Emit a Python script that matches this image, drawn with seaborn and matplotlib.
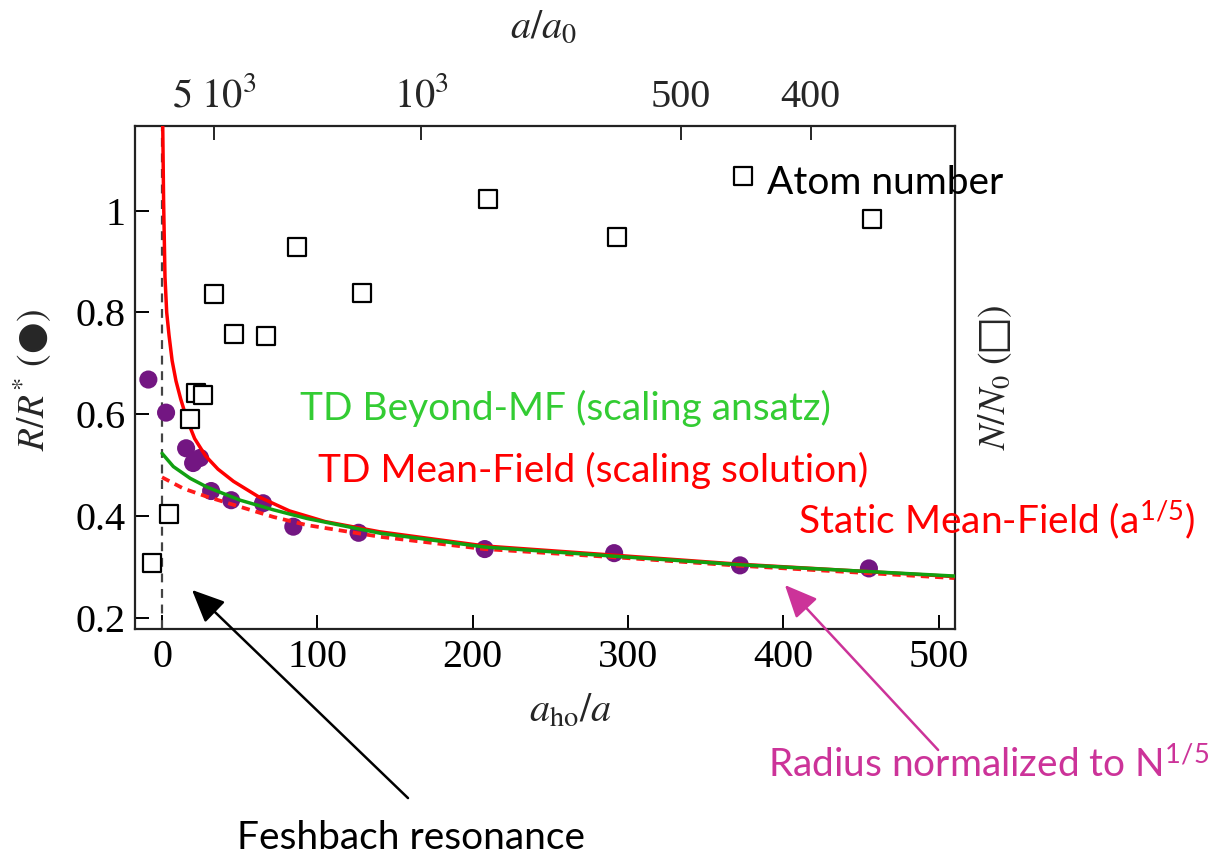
import numpy as np
import pandas as pd
import matplotlib
matplotlib.use("Agg")
import matplotlib.pyplot as plt
import seaborn as sns

# ---------------- data ----------------
dots_x = [-8.8, 2.6, 15.5, 20.0, 24.5, 31.6, 44.5, 65.0, 84.5, 126.5, 207.7, 291.0, 372.0, 455.0]
dots_y = [0.668, 0.603, 0.533, 0.504, 0.514, 0.449, 0.431, 0.425, 0.379, 0.367, 0.335, 0.327, 0.303, 0.297]

sq_x = [-6.6, 4.7, 18.1, 21.9, 26.5, 33.5, 46.5, 66.9, 86.9, 129.0, 210.0, 293.0, 374.0, 457.0]
sq_y = [0.308, 0.404, 0.591, 0.642, 0.638, 0.837, 0.757, 0.753, 0.929, 0.838, 1.023, 0.948, 1.068, 0.983]

tdmf_x = [0.45, 1.0, 1.9, 3.0, 4.5, 6.5, 9.0, 12.0, 16.0, 21.0, 28.0, 36.0, 46.0, 62.0, 82.0, 105.0, 140.0, 208.0, 291.0, 373.0, 510.0]
tdmf_y = [1.168, 1.02, 0.87, 0.80, 0.755, 0.705, 0.665, 0.630, 0.590, 0.552, 0.518, 0.492, 0.468, 0.438, 0.410, 0.389, 0.369, 0.341, 0.323, 0.305, 0.281]

bmf_x = [0.0, 7.3, 18.1, 28.8, 50.3, 71.8, 93.4, 140.6, 207.7, 291.0, 373.0, 510.0]
bmf_y = [0.523, 0.497, 0.474, 0.457, 0.431, 0.412, 0.395, 0.366, 0.339, 0.321, 0.304, 0.282]

smf_x = [0.0, 13.7, 28.8, 50.3, 71.8, 93.4, 140.6, 207.7, 291.0, 373.0, 510.0]
smf_y = [0.476, 0.454, 0.438, 0.418, 0.398, 0.382, 0.359, 0.335, 0.319, 0.302, 0.278]

x_ticks = [0, 100, 200, 300, 400, 500]
y_ticks = [0.2, 0.4, 0.6, 0.8, 1.0]
y_ticklabels = ["0.2", "0.4", "0.6", "0.8", "1"]
top_a_values = [5000, 1000, 500, 400]
top_labels = [r"$5\ 10^3$", r"$10^3$", "500", "400"]
a_ho_over_a0 = 1.67e5

# ---------------- style ----------------
sns.set_theme(style="white")
plt.rcParams["font.family"] = ["Liberation Serif", "DejaVu Sans"]
plt.rcParams["mathtext.fontset"] = "stix"

W, H = 1210, 857
fig = plt.figure(figsize=(W / 100, H / 100), dpi=100)
ax = fig.add_axes([135 / W, 1 - 629 / H, (955 - 135) / W, (629 - 125.5) / H])

XMIN, XMAX = -17.4, 510.4
YMIN, YMAX = 0.178, 1.167

# vertical resonance line
ax.axvline(0, color="#444444", lw=1.6, ls=(0, (4, 3)), zorder=1)

# data
sns.scatterplot(x=dots_x, y=dots_y, ax=ax, color="#731682", s=170, marker="o",
                edgecolor="none", zorder=2, legend=False)
sns.lineplot(x=tdmf_x, y=tdmf_y, ax=ax, color="#ff0000", lw=2.5, sort=False,
             estimator=None, zorder=3)
sns.lineplot(x=smf_x, y=smf_y, ax=ax, color="#ff1a1a", lw=2.7, sort=False,
             estimator=None, zorder=3, linestyle=(0, (2.2, 1.6)))
sns.lineplot(x=bmf_x, y=bmf_y, ax=ax, color="#11a011", lw=2.5, sort=False,
             estimator=None, zorder=4)
sns.scatterplot(x=sq_x, y=sq_y, ax=ax, marker="s", s=150, facecolor="white",
                edgecolor="black", linewidth=1.6, zorder=5, legend=False)

ax.set_xlim(XMIN, XMAX)
ax.set_ylim(YMIN, YMAX)
ax.set_xticks(x_ticks)
ax.set_yticks(y_ticks)
ax.set_yticklabels(y_ticklabels)
ax.tick_params(direction="in", length=10, width=1.4, labelsize=29, colors="black",
               bottom=True, left=True, top=False, right=False, pad=7)
for s in ax.spines.values():
    s.set_color("#222222")
    s.set_linewidth(1.6)
ax.set_xlabel("")
ax.set_ylabel("")

ax2 = ax.twiny()
ax2.set_xlim(XMIN, XMAX)
ax2.set_xticks([a_ho_over_a0 / a for a in top_a_values])
ax2.set_xticklabels(top_labels)
ax2.tick_params(direction="in", length=10, width=1.4, labelsize=29, top=True,
                bottom=False, pad=7)
for s in ax2.spines.values():
    s.set_visible(False)
ax2.grid(False)
ax.grid(False)


def fx(px):
    return px / W


def fy(py):
    return 1 - py / H


# axis labels
fig.text(fx(570), fy(712), r"$a_{\mathrm{ho}}/a$", fontsize=29, ha="center", va="center")
fig.text(fx(543), fy(28), r"$a/a_0$", fontsize=29, ha="center", va="center")
fig.text(fx(32), fy(380), r"$R/R^{*}$ (●)", fontsize=27, ha="center", va="center",
         rotation=90, family=["STIXGeneral", "DejaVu Sans"])
fig.text(fx(995), fy(378), r"$N/N_0$ (□)", fontsize=27, ha="center", va="center",
         rotation=90, family=["STIXGeneral", "DejaVu Sans"])

# annotations
sans = ["Lato", "DejaVu Sans"]
fig.text(fx(767), fy(183), "Atom number", fontsize=28, color="black",
         ha="left", va="center", family=sans)
fig.text(fx(300), fy(408), "TD Beyond-MF (scaling ansatz)", fontsize=28,
         color="#33cc33", ha="left", va="center", family=sans)
fig.text(fx(318), fy(470), "TD Mean-Field (scaling solution)", fontsize=28,
         color="#ff0000", ha="left", va="center", family=sans)
fig.text(fx(798), fy(520), r"Static Mean-Field (a$^{\mathregular{1/5}}$)", fontsize=28,
         color="#ff0000", ha="left", va="center", family=sans)
fig.text(fx(237), fy(838), "Feshbach resonance", fontsize=28, color="black",
         ha="left", va="center", family=sans)
fig.text(fx(768), fy(765), r"Radius normalized to N$^{\mathregular{1/5}}$", fontsize=28,
         color="#cc3399", ha="left", va="center", family=sans)

fig.add_artist(matplotlib.patches.FancyArrowPatch(
    (fx(410), fy(800)), (fx(190), fy(588)), transform=fig.transFigure,
    arrowstyle="-|>,head_length=1.0,head_width=0.45", color="black", lw=1.8,
    mutation_scale=20))
fig.add_artist(matplotlib.patches.FancyArrowPatch(
    (fx(940), fy(752)), (fx(783), fy(583)), transform=fig.transFigure,
    arrowstyle="-|>,head_length=1.0,head_width=0.45", color="#cc3399", lw=1.8,
    mutation_scale=20))

fig.savefig("out.png", dpi=100)
